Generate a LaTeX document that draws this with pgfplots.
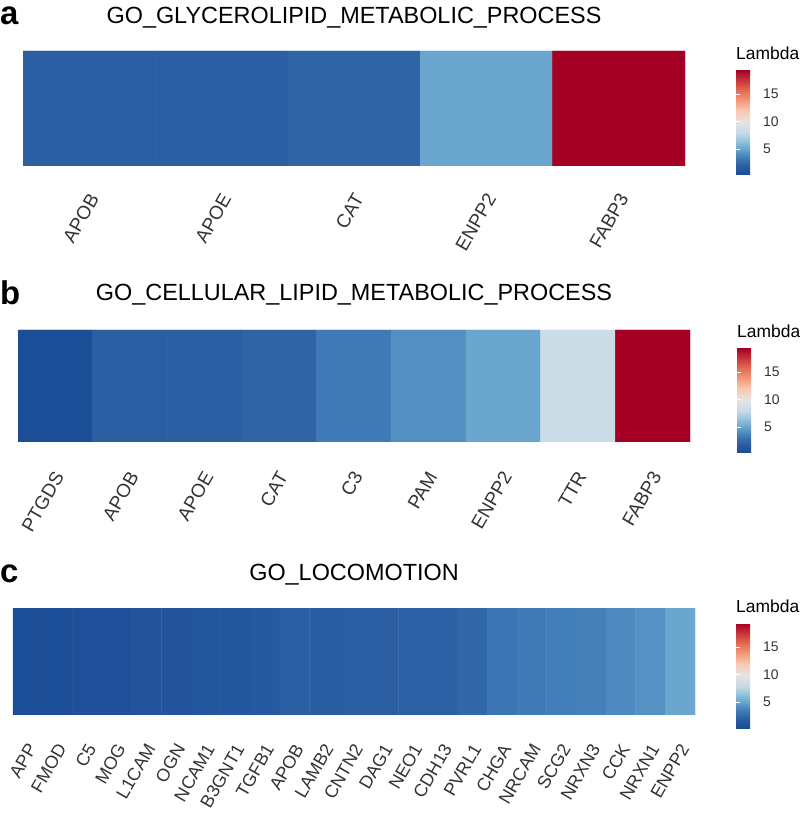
\documentclass[border=0pt]{standalone}
\usepackage{pgfplots}
\pgfplotsset{compat=1.18}
\usepackage{fontspec}
\setmainfont{Liberation Sans}

\pgfplotsset{
  colormap={lambda}{rgb255(3)=(27,76,150) rgb255(20)=(43,94,163) rgb255(35)=(65,125,185)
    rgb255(50)=(103,164,204) rgb255(65)=(150,195,223) rgb255(80)=(200,219,232)
    rgb255(100)=(232,226,226) rgb255(120)=(249,200,178) rgb255(140)=(242,150,116)
    rgb255(160)=(223,100,80) rgb255(180)=(190,40,50) rgb255(194)=(163,0,35)},
  heat/.style={
    scale only axis, anchor=south west,
    ymin=-0.5, ymax=0.5, enlargelimits=false,
    axis line style={draw=none}, ytick=\empty, xtick=data, xtick style={draw=none},
    point meta min=0.3, point meta max=19.4,
    title style={font=\fontsize{23.5}{23.5}\selectfont, at={(0.5,1)}, anchor=base, yshift=22bp},
    xticklabel style={text=black!80, rotate=60, anchor=north east, inner sep=0pt},
    colorbar,
    colorbar style={at={(parent axis.north east)}, anchor=north west,
      scale only axis, width=21bp, height=105bp,
      axis line style={draw=none},
      ytick={5,10,15}, ytick pos=both, yticklabel pos=right,
      tick align=inside, major tick length=4bp,
      ytick style={draw=white, line width=0.7bp},
      /pgf/number format/assume math mode=true,
      yticklabel style={font=\fontsize{14}{14}\selectfont, text=black!80, anchor=west, inner sep=0pt, xshift=6bp},
      title={Lambda},
      title style={font=\fontsize{17.5}{17.5}\selectfont, at={(0,1)}, anchor=base west, yshift=5bp, inner sep=0pt},
    },
  },
}

\begin{document}
\begin{tikzpicture}
\path[use as bounding box] (0,0) rectangle (800bp,813bp);

% a
\begin{axis}[heat, at={(23bp,647bp)}, width=662bp, height=115bp,
  xmin=-0.5, xmax=4.5,
  title={GO\_GLYCEROLIPID\_METABOLIC\_PROCESS},
  xticklabels={APOB,APOE,CAT,ENPP2,FABP3},
  xticklabel style={font=\fontsize{19}{19}\selectfont, xshift=-23bp, yshift=-12bp},
  colorbar shift/.style={xshift=51bp, yshift=-19bp}]
\addplot[matrix plot, mesh/cols=5, point meta=explicit] coordinates {
  (0,0) [2.0] (1,0) [2.0] (2,0) [2.3] (3,0) [5.1] (4,0) [19.4]
  (0,1) [2.0] (1,1) [2.0] (2,1) [2.3] (3,1) [5.1] (4,1) [19.4]
};
\end{axis}

% b
\begin{axis}[heat, at={(18bp,371bp)}, width=672bp, height=112bp,
  xmin=-0.5, xmax=8.5,
  title={GO\_CELLULAR\_LIPID\_METABOLIC\_PROCESS},
  title style={yshift=2bp},
  xticklabels={PTGDS,APOB,APOE,CAT,C3,PAM,ENPP2,TTR,FABP3},
  xticklabel style={font=\fontsize{19}{19}\selectfont, xshift=-25bp, yshift=-12bp},
  colorbar shift/.style={xshift=47bp, yshift=-18bp}]
\addplot[matrix plot, mesh/cols=9, point meta=explicit] coordinates {
  (0,0) [0.4] (1,0) [2.0] (2,0) [2.0] (3,0) [2.3] (4,0) [3.4] (5,0) [4.2] (6,0) [5.1] (7,0) [8.2] (8,0) [19.4]
  (0,1) [0.4] (1,1) [2.0] (2,1) [2.0] (3,1) [2.3] (4,1) [3.4] (5,1) [4.2] (6,1) [5.1] (7,1) [8.2] (8,1) [19.4]
};
\end{axis}

% c
\begin{axis}[heat, at={(13bp,99bp)}, width=682bp, height=106bp,
  xmin=-0.5, xmax=22.5,
  title={GO\_LOCOMOTION},
  xticklabels={APP,FMOD,C5,MOG,L1CAM,OGN,NCAM1,B3GNT1,TGFB1,APOB,LAMB2,CNTN2,DAG1,NEO1,CDH13,PVRL1,CHGA,NRCAM,SCG2,NRXN3,CCK,NRXN1,ENPP2},
  xticklabel style={font=\fontsize{18}{18}\selectfont, xshift=-25bp, yshift=-13bp},
  colorbar shift/.style={xshift=41bp, yshift=-15bp}]
\addplot[matrix plot, mesh/cols=23, point meta=explicit] coordinates {
  (0,0) [0.4] (1,0) [0.5] (2,0) [0.7] (3,0) [0.7] (4,0) [1.0] (5,0) [1.1] (6,0) [1.2] (7,0) [1.3]
  (8,0) [1.5] (9,0) [2.0] (10,0) [1.8] (11,0) [1.9] (12,0) [2.0] (13,0) [2.1] (14,0) [2.1] (15,0) [2.5]
  (16,0) [3.1] (17,0) [3.4] (18,0) [3.5] (19,0) [3.6] (20,0) [4.0] (21,0) [4.3] (22,0) [5.1]
  (0,1) [0.4] (1,1) [0.5] (2,1) [0.7] (3,1) [0.7] (4,1) [1.0] (5,1) [1.1] (6,1) [1.2] (7,1) [1.3]
  (8,1) [1.5] (9,1) [2.0] (10,1) [1.8] (11,1) [1.9] (12,1) [2.0] (13,1) [2.1] (14,1) [2.1] (15,1) [2.5]
  (16,1) [3.1] (17,1) [3.4] (18,1) [3.5] (19,1) [3.6] (20,1) [4.0] (21,1) [4.3] (22,1) [5.1]
};
\end{axis}

\node[font=\bfseries\fontsize{33}{33}\selectfont, anchor=base west, inner sep=0pt] at (0bp,788bp) {a};
\node[font=\bfseries\fontsize{33}{33}\selectfont, anchor=base west, inner sep=0pt] at (0bp,508bp) {b};
\node[font=\bfseries\fontsize{33}{33}\selectfont, anchor=base west, inner sep=0pt] at (0bp,230bp) {c};
\end{tikzpicture}
\end{document}
